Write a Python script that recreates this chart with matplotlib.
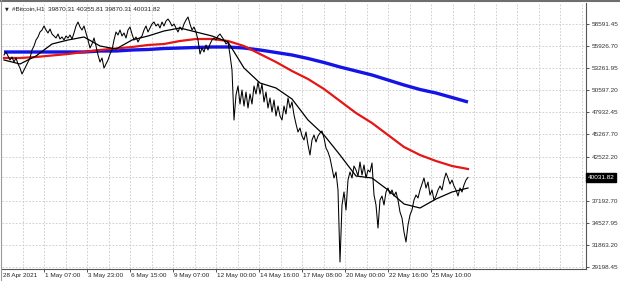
import numpy as np
import matplotlib
matplotlib.use("Agg")
import matplotlib.pyplot as plt

# ---- data ----
close = [
    54850, 55213, 54729, 54245, 54608, 54003, 54487, 53761, 53277, 52551,
    53035, 53519, 54003, 54487, 55455, 55939, 56665, 57028, 57633, 57875,
    58359, 57875, 57512, 57996, 57391, 57149, 56907, 57391, 56786, 57028,
    56665, 57149, 56907, 57270, 56786, 57512, 58359, 58843, 58238, 57875,
    58359, 57512, 56665, 55697, 56181, 56907, 55939, 54850, 54003, 54487,
    53277, 53761, 54245, 54971, 55455, 56665, 57633, 57270, 57875, 57149,
    57512, 56907, 57875, 58238, 57391, 56665, 57028, 56423, 56907, 57149,
    57875, 58359, 57633, 58117, 58601, 58843, 58359, 58601, 58117, 58843,
    58359, 58964, 59206, 58843, 58359, 58601, 58117, 57633, 58238, 57875,
    58601, 59085, 59448, 58601, 57875, 58238, 57633, 56665, 54971, 55697,
    55213, 56060, 55455, 56181, 56665, 56907, 56665, 57149, 57391, 57028,
    56665, 56181, 56423, 54850, 53035, 46985, 50010, 51099, 48921, 50615,
    48679, 50373, 48437, 50131, 48921, 51099, 50131, 51583, 50131, 51341,
    49163, 50373, 48437, 49647, 47953, 49405, 47469, 48679, 47469, 46985,
    48679, 47711, 49647, 48437, 49163, 47590, 46501, 45533, 46017, 45049,
    44565, 45533, 43960, 42750, 44565, 45170, 44323, 45049, 45412, 45654,
    44807, 43597, 43113, 42387, 41177, 39967, 40693, 38515, 29803, 36700,
    38273, 36095, 39725, 40693, 39967, 41419, 40935, 40209, 41903, 40330,
    41540, 39967, 40935, 40693, 41782, 37910, 36700, 33917, 37305, 37789,
    36700, 38273, 38757, 38031, 38515, 37789, 38273, 37305, 35853, 35127,
    33433, 32223, 34280, 35490, 36095, 37305, 37910, 37547, 38515, 39241,
    39967, 38757, 39483, 37910, 38515, 37305, 37789, 38515, 38999, 38515,
    39725, 40572, 39967, 39241, 39725, 38999, 38515, 37789, 38757, 38273,
    39120, 39725, 40031.82,
]
ma_fast = [54245, 53761, 54729, 56181, 56665, 57028, 55939, 55576, 56665, 57149,
           57754, 58117, 57633, 57149, 56423, 53277, 51462, 50857, 49526, 46985,
           45170, 42750, 40209, 39967, 38515, 36821, 36337, 37426, 38273, 38757]
ma_mid = [54487, 54487, 54608, 54790, 54971, 55213, 55455, 55637, 55818, 56060,
          56181, 56544, 56786, 56786, 56544, 55939, 54971, 54003, 52914, 51946,
          50736, 49284, 47832, 46622, 45170, 43718, 42750, 42024, 41419, 41056]
ma_slow = [55213, 55213, 55213, 55213, 55213, 55213, 55334, 55334, 55455, 55516,
           55637, 55697, 55758, 55818, 55818, 55697, 55455, 55153, 54850, 54427,
           53943, 53398, 52914, 52430, 51825, 51220, 50676, 50252, 49708, 49163]

y_ticks = [58591.45, 55926.70, 53261.95, 50597.20, 47932.45, 45267.70,
           42522.20, 37192.70, 34527.95, 31863.20, 29198.45]
x_labels = ["28 Apr 2021", "1 May 07:00", "3 May 23:00", "6 May 15:00",
            "9 May 07:00", "12 May 00:00", "14 May 16:00", "17 May 08:00",
            "20 May 00:00", "22 May 16:00", "25 May 10:00"]
title = "#Bitcoin,H1  39870.31 40355.81 39870.31 40031.82"
last_price = "40031.82"

# ---- figure ----
W, H = 620, 281
fig = plt.figure(figsize=(W / 100, H / 100), dpi=100)
fig.patch.set_facecolor("white")
ax = fig.add_axes([2 / W, (H - 269) / H, (586 - 2) / W, (269 - 3) / H])
ax.set_facecolor("white")

xc = np.arange(len(close))
xm = np.arange(len(ma_slow)) * (len(close) - 1) / (len(ma_slow) - 1)

ax.set_xlim(-1, 291)
ax.set_ylim(28956, 61142)

# grid
grid_kw = dict(color="#c8c8c8", lw=0.6, ls=(0, (2, 2)), zorder=0)
tick_pos = [0] + [20 + 21.5 * j for j in range(len(x_labels) - 1)]
gx = 20 - 10.75
while gx < 291:
    ax.axvline(gx, **grid_kw)
    gx += 10.75
for yv in y_ticks + [float(last_price)]:
    ax.axhline(yv, **grid_kw)

ax.plot(xm, ma_slow, color="#1414e6", lw=2.4, solid_capstyle="butt", zorder=2)
ax.plot(xm, ma_mid, color="#e41616", lw=1.6, zorder=3)
ax.plot(xc, close, color="black", lw=0.75, zorder=4)
ax.plot(xm, ma_fast, color="black", lw=0.9, zorder=5)

fs = 4.6
font = "Liberation Sans"
ax.yaxis.tick_right()
ax.set_yticks(y_ticks)
ax.set_yticklabels([f"{v:.2f}" for v in y_ticks], fontsize=fs, family=font)
ax.set_xticks(tick_pos[1:])
ax.set_xticklabels([])
ax.tick_params(axis="y", length=2.5, width=0.6, pad=1.5, colors="#333333")
ax.tick_params(axis="x", length=2.5, width=0.6, colors="#333333")
for i, lab in enumerate(x_labels):
    ax.text(tick_pos[i] + (0.5 if i else -0.5), 28956 - 500, lab, fontsize=fs,
            family=font, ha="left", va="top", color="#222222", clip_on=False)

for s in ["top", "left"]:
    ax.spines[s].set_visible(False)
for s in ["right", "bottom"]:
    ax.spines[s].set_color("#555555")
    ax.spines[s].set_linewidth(0.8)

# current price box
ax.text(1.003, float(last_price), last_price, transform=ax.get_yaxis_transform(),
        fontsize=fs, family=font, color="white", ha="left", va="center",
        bbox=dict(boxstyle="square,pad=0.25", fc="black", ec="black"), zorder=10,
        clip_on=False)

# title
fig.text(5 / W, 1 - 9 / H, "\u25bc", fontsize=3.5, family="DejaVu Sans",
         va="center", ha="left", color="#222222")
fig.text(12 / W, 1 - 9 / H, title, fontsize=fs, family=font, va="center",
         ha="left", color="#222222")

# window border
fig.add_artist(plt.Line2D([0, 1], [1 - 0.5 / H, 1 - 0.5 / H], color="#6e6e6e", lw=1.5,
                          transform=fig.transFigure))
fig.add_artist(plt.Line2D([0.5 / W, 0.5 / W], [0, 1], color="#9a9a9a", lw=0.8,
                          transform=fig.transFigure))

fig.savefig("out.png", dpi=100, facecolor="white")
